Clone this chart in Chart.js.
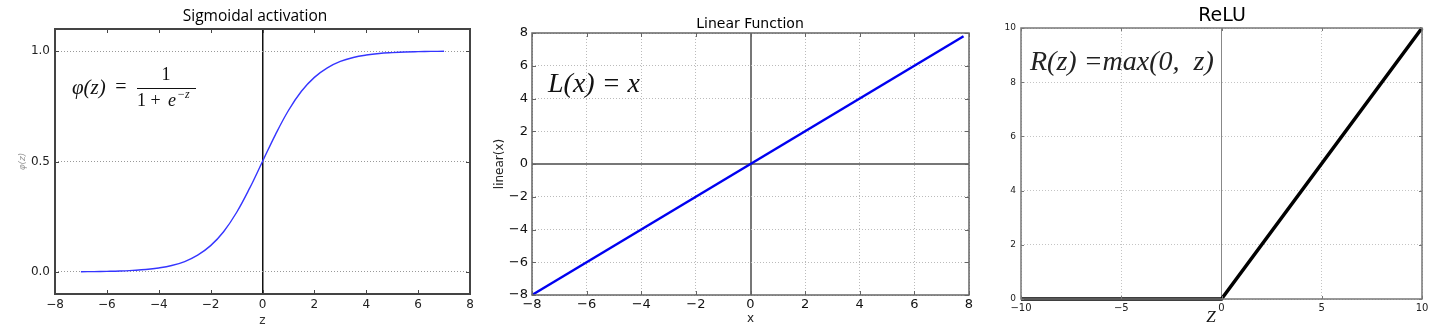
<!DOCTYPE html>
<html>
<head>
<meta charset="utf-8">
<script src="https://cdn.jsdelivr.net/npm/chart.js@4"></script>
<style>
  html, body { margin: 0; padding: 0; background: #fff; }
  .panel { position: absolute; top: 0; height: 336px; }
</style>
</head>
<body>
<div class="panel" style="left:0;width:480px"><canvas id="sigmoid"></canvas></div>
<div class="panel" style="left:480px;width:500px"><canvas id="linear"></canvas></div>
<div class="panel" style="left:980px;width:453px"><canvas id="relu"></canvas></div>
<script>
// --- sigmoid panel ---
const sigZ = [-7, -6.5, -6, -5.5, -5, -4.5, -4, -3.5, -3, -2.5, -2, -1.5, -1, -0.5, 0,
              0.5, 1, 1.5, 2, 2.5, 3, 3.5, 4, 4.5, 5, 5.5, 6, 6.5, 7];
const sigPhi = [0.001, 0.0015, 0.0025, 0.004, 0.007, 0.011, 0.018, 0.029, 0.047, 0.076, 0.119, 0.182, 0.269, 0.378, 0.5,
                0.622, 0.731, 0.818, 0.881, 0.924, 0.953, 0.971, 0.982, 0.989, 0.993, 0.996, 0.9975, 0.9985, 0.999];
const sigXTicks = [-8, -6, -4, -2, 0, 2, 4, 6, 8];
const sigYTicks = [0, 0.5, 1.0];

// --- linear panel ---
const linX = [-8, 7.8];
const linY = [-8, 7.8];
const linTicks = [-8, -6, -4, -2, 0, 2, 4, 6, 8];

// --- relu panel ---
const reluX = [-10, 0, 10];
const reluY = [0, 0, 10];
const reluXTicks = [-10, -5, 0, 5, 10];
const reluYTicks = [0, 2, 4, 6, 8, 10];

const MINUS = "\u2212";
const fmtInt = (v) => String(v).replace("-", MINUS);
const setTicks = (list) => (s) => { s.ticks = list.map((v) => ({ value: v })); };
const isZero = (c) => c.tick && c.tick.value === 0;

// frame, inward tick marks and free text (titles, formulas)
const decor = {
  id: "decor",
  afterDatasetsDraw(chart, args, opts) {
    const { ctx, chartArea: a, scales: { x, y } } = chart;
    ctx.save();
    ctx.strokeStyle = opts.color;
    ctx.lineWidth = opts.width;
    ctx.strokeRect(a.left, a.top, a.right - a.left, a.bottom - a.top);
    ctx.lineWidth = 1;
    ctx.beginPath();
    const tl = opts.tickLen;
    x.ticks.forEach((t) => {
      const px = Math.round(x.getPixelForValue(t.value)) + 0.5;
      ctx.moveTo(px, a.bottom); ctx.lineTo(px, a.bottom - tl);
      ctx.moveTo(px, a.top); ctx.lineTo(px, a.top + tl);
    });
    y.ticks.forEach((t) => {
      const py = Math.round(y.getPixelForValue(t.value)) + 0.5;
      ctx.moveTo(a.left, py); ctx.lineTo(a.left + tl, py);
      ctx.moveTo(a.right, py); ctx.lineTo(a.right - tl, py);
    });
    ctx.stroke();
    ctx.restore();
  },
  afterDraw(chart, args, opts) {
    const { ctx } = chart;
    ctx.save();
    ctx.textBaseline = "middle";
    (opts.texts || []).forEach((t) => {
      if (t.line) {
        ctx.strokeStyle = t.color || "#000";
        ctx.lineWidth = 1;
        ctx.beginPath();
        ctx.moveTo(t.line[0], t.line[1]);
        ctx.lineTo(t.line[2], t.line[3]);
        ctx.stroke();
        return;
      }
      ctx.font = t.font;
      ctx.fillStyle = t.color || "#000";
      ctx.textAlign = t.align || "left";
      ctx.fillText(t.text, t.x, t.y);
    });
    ctx.restore();
  },
};

const baseOpts = {
  responsive: true,
  maintainAspectRatio: false,
  animation: false,
  events: [],
};

// Sigmoid
new Chart(document.getElementById("sigmoid"), {
  type: "scatter",
  data: {
    datasets: [{
      data: sigZ.map((z, i) => ({ x: z, y: sigPhi[i] })),
      showLine: true,
      borderColor: "#3535ff",
      borderWidth: 1.4,
      pointRadius: 0,
      tension: 0.4,
      clip: false,
    }],
  },
  plugins: [decor],
  options: {
    ...baseOpts,
    layout: { padding: { top: 29, right: 10, left: 0, bottom: 0 } },
    plugins: {
      legend: { display: false },
      tooltip: { enabled: false },
      decor: {
        color: "#444", width: 2, tickLen: 4,
        texts: [
          { text: "Sigmoidal activation", x: 255, y: 17, align: "center", font: "15.5px 'Open Sans'" },
          { text: "\u03c6(z)", x: 72, y: 88, font: "italic 21px 'Liberation Serif'", color: "#111" },
          { text: "=", x: 121, y: 88, align: "center", font: "20px 'Liberation Serif'", color: "#111" },
          { text: "1", x: 166, y: 75, align: "center", font: "18px 'Liberation Serif'", color: "#111" },
          { line: [137, 88.5, 196, 88.5], color: "#111" },
          { text: "1 + ", x: 137, y: 101, font: "18px 'Liberation Serif'", color: "#111" },
          { text: "e", x: 168, y: 101, font: "italic 18px 'Liberation Serif'", color: "#111" },
          { text: MINUS + "z", x: 177, y: 95, font: "italic 12px 'Liberation Serif'", color: "#111" },
        ],
      },
    },
    scales: {
      x: {
        type: "linear", min: -8, max: 8,
        afterBuildTicks: setTicks(sigXTicks),
        afterFit: (s) => { s.height = 42; },
        grid: {
          drawTicks: false,
          color: (c) => (isZero(c) ? "#111" : "rgba(0,0,0,0)"),
          lineWidth: (c) => (isZero(c) ? 1.5 : 0),
        },
        border: { display: false },
        ticks: { padding: 4, color: "#222", font: { family: "DejaVu Sans", size: 12 }, callback: fmtInt },
        title: { display: true, text: "z", color: "#333", font: { family: "DejaVu Sans", size: 12 }, padding: { top: 0, bottom: 8 } },
      },
      y: {
        type: "linear", min: -0.1, max: 1.1,
        afterBuildTicks: setTicks(sigYTicks),
        afterFit: (s) => { s.width = 55; },
        grid: { drawTicks: false, color: "#999", lineWidth: 1 },
        border: { display: false, dash: [1, 2] },
        ticks: { padding: 5, color: "#222", font: { family: "DejaVu Sans", size: 12 }, callback: (v) => v.toFixed(1) },
        title: { display: true, text: "\u03c6(z)", color: "#999", font: { family: "DejaVu Sans", size: 9, style: "italic" }, padding: { top: 17, bottom: 0 } },
      },
    },
  },
});

// Linear
new Chart(document.getElementById("linear"), {
  type: "scatter",
  data: {
    datasets: [{
      data: linX.map((v, i) => ({ x: v, y: linY[i] })),
      showLine: true,
      borderColor: "#0000f0",
      borderWidth: 2.5,
      pointRadius: 0,
      clip: false,
    }],
  },
  plugins: [decor],
  options: {
    ...baseOpts,
    layout: { padding: { top: 33, right: 11, left: 0, bottom: 0 } },
    plugins: {
      legend: { display: false },
      tooltip: { enabled: false },
      decor: {
        color: "#666", width: 1.5, tickLen: 4,
        texts: [
          { text: "Linear Function", x: 270, y: 24, align: "center", font: "14px 'DejaVu Sans'" },
          { text: "L(x) = x", x: 68, y: 85, font: "italic 28px 'Liberation Serif'", color: "#111" },
        ],
      },
    },
    scales: {
      x: {
        type: "linear", min: -8, max: 8,
        afterBuildTicks: setTicks(linTicks),
        afterFit: (s) => { s.height = 41; },
        grid: {
          drawTicks: false,
          color: (c) => (isZero(c) ? "#777" : "#bbb"),
          lineWidth: (c) => (isZero(c) ? 2 : 1),
        },
        border: { display: false, dash: (c) => (isZero(c) ? [] : [1, 2]) },
        ticks: { padding: 2, color: "#111", font: { family: "DejaVu Sans", size: 13 }, callback: fmtInt },
        title: { display: true, text: "x", color: "#222", font: { family: "DejaVu Sans", size: 12 }, padding: { top: 0, bottom: 10 } },
      },
      y: {
        type: "linear", min: -8, max: 8,
        afterBuildTicks: setTicks(linTicks),
        afterFit: (s) => { s.width = 52; },
        grid: {
          drawTicks: false,
          color: (c) => (isZero(c) ? "#777" : "#bbb"),
          lineWidth: (c) => (isZero(c) ? 2 : 1),
        },
        border: { display: false, dash: (c) => (isZero(c) ? [] : [1, 2]) },
        ticks: { padding: 4, color: "#111", font: { family: "DejaVu Sans", size: 13 }, callback: fmtInt },
        title: { display: true, text: "linear(x)", color: "#222", font: { family: "DejaVu Sans", size: 12 }, padding: { top: 13, bottom: 0 } },
      },
    },
  },
});

// ReLU
new Chart(document.getElementById("relu"), {
  type: "scatter",
  data: {
    datasets: [{
      data: reluX.map((v, i) => ({ x: v, y: reluY[i] })),
      showLine: true,
      borderColor: "#000",
      borderWidth: 3.5,
      pointRadius: 0,
      clip: false,
    }],
  },
  plugins: [decor],
  options: {
    ...baseOpts,
    layout: { padding: { top: 28, right: 11, left: 0, bottom: 0 } },
    plugins: {
      legend: { display: false },
      tooltip: { enabled: false },
      decor: {
        color: "#777", width: 1.5, tickLen: 3,
        texts: [
          { text: "ReLU", x: 242, y: 16, align: "center", font: "19px 'DejaVu Sans'" },
          { text: "R(z) =max(0,  z)", x: 50, y: 63, font: "italic 28px 'Liberation Serif'", color: "#222" },
          { text: "Z", x: 231, y: 318, align: "center", font: "italic 17px 'Liberation Serif'", color: "#111" },
        ],
      },
    },
    scales: {
      x: {
        type: "linear", min: -10, max: 10,
        afterBuildTicks: setTicks(reluXTicks),
        afterFit: (s) => { s.height = 37; },
        grid: {
          drawTicks: false,
          color: (c) => (isZero(c) ? "#888" : "#c4c4c4"),
          lineWidth: 1,
        },
        border: { display: false, dash: (c) => (isZero(c) ? [] : [1, 2]) },
        ticks: { padding: 3, color: "#222", font: { family: "DejaVu Sans", size: 10 }, callback: fmtInt },
      },
      y: {
        type: "linear", min: 0, max: 10,
        afterBuildTicks: setTicks(reluYTicks),
        afterFit: (s) => { s.width = 41; },
        grid: { drawTicks: false, color: "#c4c4c4", lineWidth: 1 },
        border: { display: false, dash: [1, 2] },
        ticks: { padding: 5, color: "#222", font: { family: "DejaVu Sans", size: 9 }, callback: fmtInt },
      },
    },
  },
});
</script>
</body>
</html>
